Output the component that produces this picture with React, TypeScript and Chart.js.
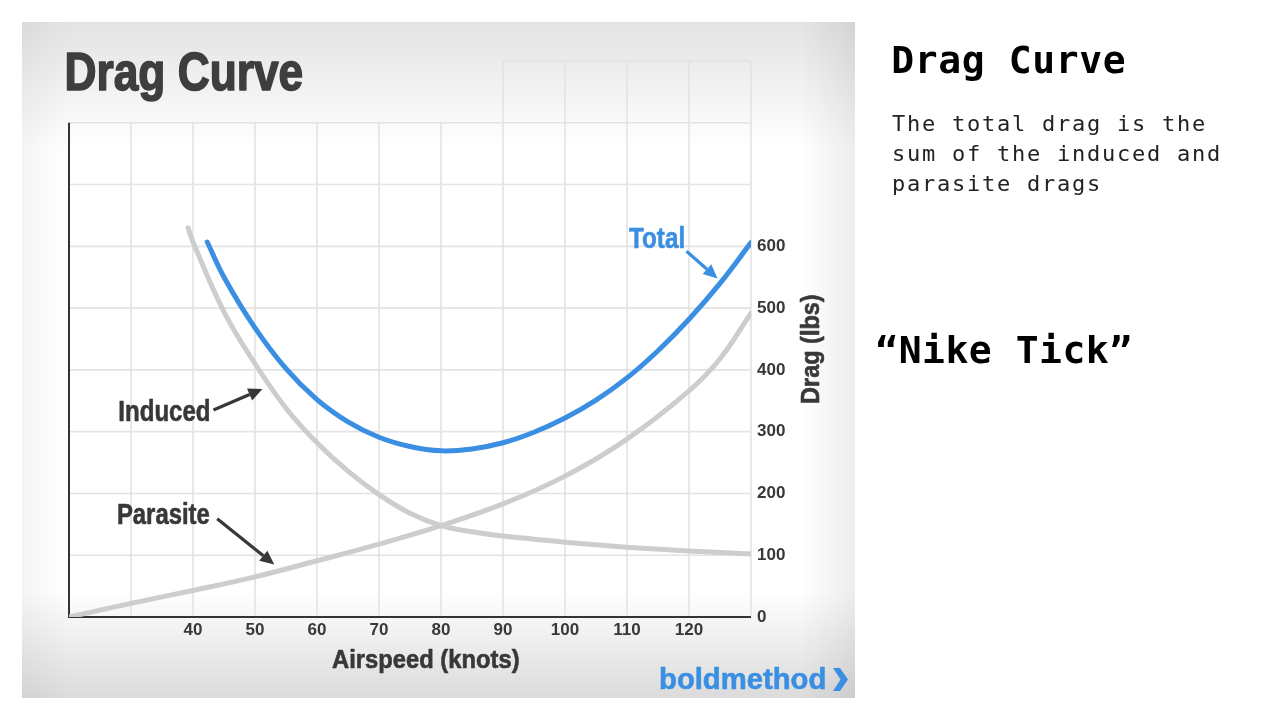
import React, { useEffect, useRef } from 'react';
import { Chart, registerables } from 'chart.js';

Chart.register(...registerables);

// ---- Data ----
const inducedSpeeds = [39.2, 40, 45, 50, 55, 60, 65, 70, 75, 80, 85, 90, 95, 100, 110, 120, 130];
const inducedDrag = [630, 607, 494, 410, 338, 282, 236, 198, 168, 148, 138, 131, 126, 121, 113, 107, 102];

const parasiteSpeeds = [20, 30, 40, 50, 60, 70, 80, 90, 100, 110, 120, 125, 130];
const parasiteDrag = [0, 22, 43, 65, 91, 118, 148, 183, 228, 288, 366, 418, 492];

const totalSpeeds = [42.3, 45, 50, 55, 60, 65, 70, 75, 80, 85, 90, 95, 100, 105, 110, 115, 120, 125, 130];
const totalDrag = [607, 550, 468, 402, 352, 316, 291, 276, 269, 272, 282, 299, 322, 351, 387, 431, 482, 540, 606];

const xTickLabels = [40, 50, 60, 70, 80, 90, 100, 110, 120];
const yTickLabels = [0, 100, 200, 300, 400, 500, 600];

const chartTitle = 'Drag Curve';
const xTitle = 'Airspeed (knots)';
const yTitle = 'Drag (lbs)';
const sideTitle = 'Drag Curve';
const sideBody = ['The total drag is the', 'sum of the induced and', 'parasite drags'];
const sideNote = '\u201CNike Tick\u201D';
const brand = 'boldmethod';

// ---- Styles ----
const BLUE = '#3a8fe2';
const GREY = '#cdcdcd';
const DARK = '#38383a';
const GRID = '#e3e3e3';

// annotation anchors in data units (knots, lbs)
const curveLabels = [
  { text: 'Total', color: BLUE, right: 119.2, base: 598, width: 55, size: 30, from: [119.6, 592], to: [124.6, 548] },
  { text: 'Induced', color: DARK, right: 42.6, base: 317, width: 90, size: 29, from: [43.3, 335], to: [51.2, 369] },
  { text: 'Parasite', color: DARK, right: 42.7, base: 150, width: 92, size: 29, from: [43.9, 159], to: [53.1, 85] },
];

function fitText(ctx: CanvasRenderingContext2D, text: string, left: number, baseline: number, width: number, size: number, color: string, extra = 0.6) {
  ctx.save();
  ctx.font = `bold ${size}px "Liberation Sans", Arial, sans-serif`;
  ctx.textAlign = 'left';
  ctx.textBaseline = 'alphabetic';
  const m = ctx.measureText(text);
  const w = m.actualBoundingBoxRight + m.actualBoundingBoxLeft;
  const sx = width / w;
  ctx.translate(left, baseline);
  ctx.scale(sx, 1);
  ctx.fillStyle = color;
  ctx.fillText(text, m.actualBoundingBoxLeft, 0);
  if (extra > 0) {
    ctx.strokeStyle = color;
    ctx.lineWidth = extra;
    ctx.lineJoin = 'round';
    ctx.strokeText(text, m.actualBoundingBoxLeft, 0);
  }
  ctx.restore();
}

function monoText(ctx: CanvasRenderingContext2D, text: string, x0: number, baseline: number, pitch: number, size: number, weight: string, color: string) {
  ctx.save();
  ctx.font = `${weight} ${size}px "DejaVu Sans Mono", monospace`;
  ctx.fillStyle = color;
  ctx.textAlign = 'center';
  ctx.textBaseline = 'alphabetic';
  for (let i = 0; i < text.length; i++) {
    ctx.fillText(text[i], x0 + i * pitch + pitch / 2, baseline);
  }
  ctx.restore();
}

function arrow(ctx: CanvasRenderingContext2D, x1: number, y1: number, x2: number, y2: number, color: string) {
  const ang = Math.atan2(y2 - y1, x2 - x1);
  const hl = 14, hw = 6.5;
  const bx = x2 - hl * Math.cos(ang), by = y2 - hl * Math.sin(ang);
  ctx.save();
  ctx.strokeStyle = color;
  ctx.fillStyle = color;
  ctx.lineWidth = 3.2;
  ctx.beginPath();
  ctx.moveTo(x1, y1);
  ctx.lineTo(bx, by);
  ctx.stroke();
  ctx.beginPath();
  ctx.moveTo(x2, y2);
  ctx.lineTo(bx + hw * Math.sin(ang), by - hw * Math.cos(ang));
  ctx.lineTo(bx - hw * Math.sin(ang), by + hw * Math.cos(ang));
  ctx.closePath();
  ctx.fill();
  ctx.restore();
}

const backgroundPlugin = {
  id: 'bg',
  beforeDraw(chart: any) {
    const ctx: CanvasRenderingContext2D = chart.ctx;
    ctx.save();
    ctx.fillStyle = '#ffffff';
    ctx.fillRect(0, 0, chart.width, chart.height);
    const L = 22, T = 22, R = 855, B = 698;
    let g = ctx.createLinearGradient(0, T, 0, 150);
    g.addColorStop(0, 'rgba(0,0,0,0.11)');
    g.addColorStop(1, 'rgba(0,0,0,0)');
    ctx.fillStyle = g;
    ctx.fillRect(L, T, R - L, 150 - T);
    g = ctx.createLinearGradient(0, 590, 0, B);
    g.addColorStop(0, 'rgba(0,0,0,0)');
    g.addColorStop(1, 'rgba(0,0,0,0.14)');
    ctx.fillStyle = g;
    ctx.fillRect(L, 590, R - L, B - 590);
    g = ctx.createLinearGradient(L, 0, 70, 0);
    g.addColorStop(0, 'rgba(0,0,0,0.04)');
    g.addColorStop(1, 'rgba(0,0,0,0)');
    ctx.fillStyle = g;
    ctx.fillRect(L, T, 70 - L, B - T);
    g = ctx.createLinearGradient(800, 0, R, 0);
    g.addColorStop(0, 'rgba(0,0,0,0)');
    g.addColorStop(1, 'rgba(0,0,0,0.07)');
    ctx.fillStyle = g;
    ctx.fillRect(800, T, R - 800, B - T);
    ctx.restore();
  },
};

const gridPlugin = {
  id: 'customGrid',
  beforeDatasetsDraw(chart: any) {
    const ctx: CanvasRenderingContext2D = chart.ctx;
    const xs = chart.scales.x, ys = chart.scales.y;
    ctx.save();
    ctx.strokeStyle = GRID;
    ctx.lineWidth = 1.6;
    for (let v = 100; v <= 900; v += 100) {
      const y = ys.getPixelForValue(v);
      const xStart = v > 800 ? xs.getPixelForValue(90) : xs.getPixelForValue(20);
      ctx.beginPath();
      ctx.moveTo(xStart, y);
      ctx.lineTo(xs.getPixelForValue(130), y);
      ctx.stroke();
    }
    for (let k = 30; k <= 130; k += 10) {
      const x = xs.getPixelForValue(k);
      const top = k >= 90 ? 900 : 800;
      ctx.beginPath();
      ctx.moveTo(x, ys.getPixelForValue(0));
      ctx.lineTo(x, ys.getPixelForValue(top));
      ctx.stroke();
    }
    ctx.strokeStyle = '#333335';
    ctx.lineWidth = 2;
    ctx.beginPath();
    ctx.moveTo(xs.getPixelForValue(20), ys.getPixelForValue(800));
    ctx.lineTo(xs.getPixelForValue(20), ys.getPixelForValue(0));
    ctx.lineTo(xs.getPixelForValue(130), ys.getPixelForValue(0));
    ctx.stroke();
    ctx.restore();
  },
};

const annotationPlugin = {
  id: 'annotations',
  afterDraw(chart: any) {
    const ctx: CanvasRenderingContext2D = chart.ctx;
    const xs = chart.scales.x, ys = chart.scales.y;
    const px = (k: number) => xs.getPixelForValue(k);
    const py = (v: number) => ys.getPixelForValue(v);

    fitText(ctx, chartTitle, 67, 90, 235, 53, '#3e3e40', 1.6);
    fitText(ctx, xTitle, 332, 668, 187, 26, DARK);
    ctx.save();
    ctx.translate(819, 403);
    ctx.rotate(-Math.PI / 2);
    fitText(ctx, yTitle, 0, 0, 108, 26, DARK);
    ctx.restore();

    for (const c of curveLabels) {
      const right = px(c.right);
      fitText(ctx, c.text, right - c.width, py(c.base), c.width, c.size, c.color);
      arrow(ctx, px(c.from[0]), py(c.from[1]), px(c.to[0]), py(c.to[1]), c.color);
    }

    fitText(ctx, brand, 660, 689, 165, 30, BLUE);
    ctx.save();
    ctx.fillStyle = BLUE;
    ctx.beginPath();
    ctx.moveTo(833, 668);
    ctx.lineTo(840, 668);
    ctx.lineTo(848, 679.5);
    ctx.lineTo(840, 691);
    ctx.lineTo(833, 691);
    ctx.lineTo(840.5, 679.5);
    ctx.closePath();
    ctx.fill();
    ctx.restore();

    monoText(ctx, sideTitle, 891, 73, 23.5, 38, 'bold', '#000000');
    sideBody.forEach((line, i) => monoText(ctx, line, 891, 131 + i * 30, 15, 22, 'normal', '#222222'));
    monoText(ctx, sideNote, 875, 363, 23.4, 38, 'bold', '#000000');
  },
};

export default function App() {
  const ref = useRef<HTMLCanvasElement>(null);
  useEffect(() => {
    const canvas = ref.current!;
    const tickFont = { family: '"Liberation Sans", Arial, sans-serif', weight: 'bold' as const, size: 17 };
    const line = (label: string, xs: number[], ys: number[], color: string) => ({
      label,
      data: xs.map((x, i) => ({ x, y: ys[i] })),
      borderColor: color,
      borderWidth: 5,
      pointRadius: 0,
      tension: 0.4,
      borderCapStyle: 'round' as const,
    });
    const chart = new Chart(canvas, {
      type: 'line',
      data: {
        datasets: [
          line('Parasite', parasiteSpeeds, parasiteDrag, GREY),
          line('Induced', inducedSpeeds, inducedDrag, GREY),
          line('Total', totalSpeeds, totalDrag, BLUE),
        ],
      },
      options: {
        responsive: false,
        animation: false,
        events: [],
        layout: { padding: { left: 69, top: 61, right: 469, bottom: 63 } },
        plugins: { legend: { display: false }, tooltip: { enabled: false }, title: { display: false } },
        scales: {
          x: {
            type: 'linear',
            min: 20,
            max: 130,
            grid: { display: false, drawTicks: false },
            border: { display: false },
            ticks: {
              stepSize: 10,
              autoSkip: false,
              maxRotation: 0,
              padding: 3,
              color: DARK,
              font: tickFont,
              callback: (v: any) => (xTickLabels.includes(Number(v)) ? String(v) : ''),
            },
            afterFit: (s: any) => { s.height = 40; },
          },
          y: {
            type: 'linear',
            position: 'right',
            min: 0,
            max: 900,
            grid: { display: false, drawTicks: false },
            border: { display: false },
            ticks: {
              stepSize: 100,
              padding: 6,
              color: DARK,
              font: tickFont,
              callback: (v: any) => (yTickLabels.includes(Number(v)) ? String(v) : ''),
            },
            afterFit: (s: any) => { s.width = 60; },
          },
        },
      } as any,
      plugins: [backgroundPlugin, gridPlugin, annotationPlugin],
    });
    return () => chart.destroy();
  }, []);
  return (
    <div style={{ position: 'fixed', left: 0, top: 0, width: 1280, height: 720 }}>
      <canvas ref={ref} width={1280} height={720} style={{ display: 'block', width: 1280, height: 720 }} />
    </div>
  );
}
